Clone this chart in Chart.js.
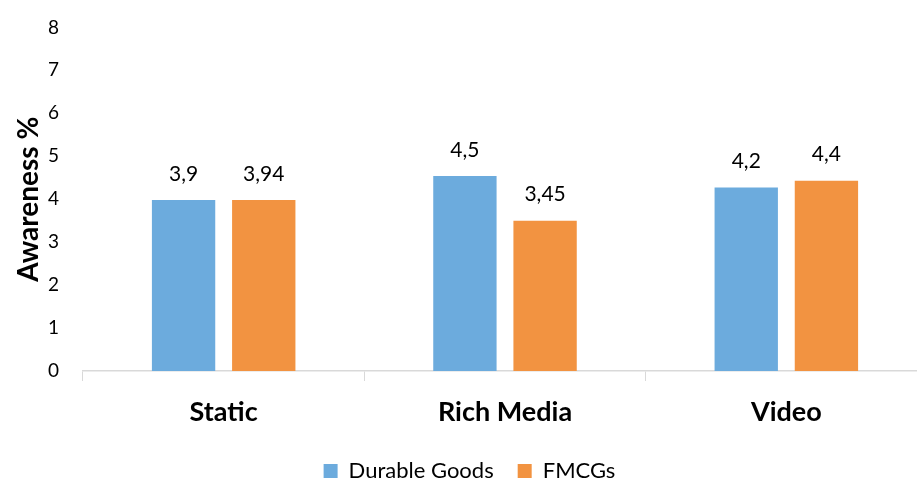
<!DOCTYPE html>
<html lang="en">
<head>
  <meta charset="UTF-8" />
  <title>Awareness %</title>
  <script src="https://cdn.jsdelivr.net/npm/chart.js"></script>
  <style>
    html, body { margin: 0; padding: 0; background: #fff; overflow: hidden; }
    #wrap { width: 927px; height: 479px; position: relative; }
  </style>
</head>
<body>
  <div id="wrap"><canvas id="awareChart"></canvas></div>

  <script>
    // data
    const categories = ['Static', 'Rich Media', 'Video'];
    const durableGoods = [3.98, 4.54, 4.27];
    const fmcgs = [3.98, 3.5, 4.43];
    // labels as printed on the bars
    const durableLabels = ['3,9', '4,5', '4,2'];
    const fmcgLabels = ['3,94', '3,45', '4,4'];
    const yTicks = [0, 1, 2, 3, 4, 5, 6, 7, 8];

    const FONT = 'Lato, "Open Sans", sans-serif';

    // draws the value text above each bar
    const barLabels = {
      id: 'barLabels',
      afterDatasetsDraw(chart) {
        const ctx = chart.ctx;
        ctx.save();
        ctx.font = '21px ' + FONT;
        ctx.fillStyle = '#000';
        ctx.textAlign = 'center';
        ctx.textBaseline = 'middle';
        chart.data.datasets.forEach((ds, i) => {
          chart.getDatasetMeta(i).data.forEach((bar, j) => {
            ctx.fillText(ds.valueLabels[j], bar.x, bar.y - 26);
          });
        });
        ctx.restore();
      }
    };

    new Chart(document.getElementById('awareChart').getContext('2d'), {
      type: 'bar',
      data: {
        labels: categories,
        datasets: [
          {
            label: 'Durable Goods',
            data: durableGoods,
            valueLabels: durableLabels,
            backgroundColor: '#6CABDD',
            categoryPercentage: 0.57,
            barPercentage: 0.79
          },
          {
            label: 'FMCGs',
            data: fmcgs,
            valueLabels: fmcgLabels,
            backgroundColor: '#F29341',
            categoryPercentage: 0.57,
            barPercentage: 0.79
          }
        ]
      },
      options: {
        responsive: true,
        maintainAspectRatio: false,
        animation: false,
        layout: { padding: { top: 4, right: 0, left: 12, bottom: -13 } },
        plugins: {
          legend: {
            position: 'bottom',
            labels: {
              font: { family: FONT, size: 22 },
              color: '#000',
              boxWidth: 14,
              boxHeight: 14,
              padding: 24
            }
          },
          tooltip: { enabled: false }
        },
        scales: {
          x: {
            grid: {
              offset: true,
              drawOnChartArea: false,
              tickLength: 10,
              color: '#D9D9D9'
            },
            border: { color: '#D9D9D9', width: 1.5 },
            ticks: {
              font: { family: FONT, size: 27, weight: 'bold' },
              color: '#000',
              padding: 15
            },
            afterFit(scale) { scale.height = 65; }
          },
          y: {
            min: 0,
            max: 8,
            afterBuildTicks(scale) { scale.ticks = yTicks.map(v => ({ value: v })); },
            grid: { display: false },
            border: { display: false },
            ticks: {
              font: { family: FONT, size: 19 },
              color: '#000',
              padding: 16
            },
            title: {
              display: true,
              text: 'Awareness %',
              font: { family: FONT, size: 28, weight: 'bold' },
              color: '#000',
              padding: 0
            },
            afterFit(scale) { scale.width = 71; }
          }
        }
      },
      plugins: [barLabels]
    });
  </script>
</body>
</html>
